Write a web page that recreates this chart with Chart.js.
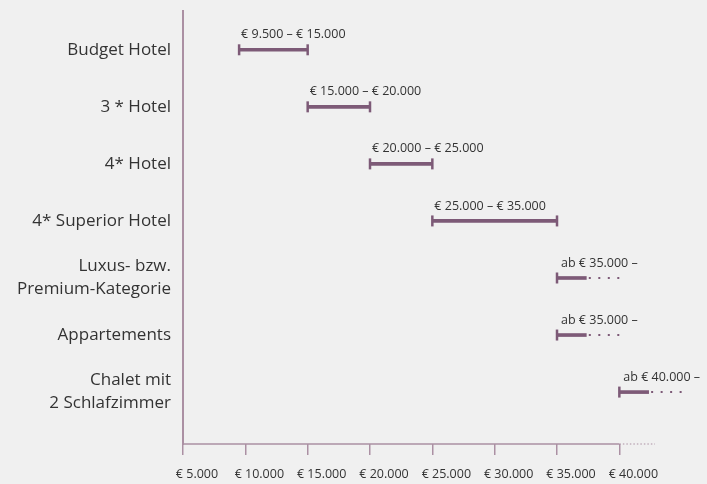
<!DOCTYPE html>
<html>
<head>
<meta charset="utf-8">
<script src="https://cdn.jsdelivr.net/npm/chart.js@4/dist/chart.umd.min.js"></script>
<style>
  html, body { margin: 0; padding: 0; background: #f0f0f0; }
</style>
</head>
<body>
<canvas id="myChart" width="707" height="484"></canvas>
<script>
// categories (top to bottom) and price ranges in EUR; null = open-ended ("ab ...")
var categories = [
  'Budget Hotel',
  '3 * Hotel',
  '4* Hotel',
  '4* Superior Hotel',
  ['Luxus- bzw.', 'Premium-Kategorie'],
  'Appartements',
  ['Chalet mit', '2 Schlafzimmer']
];
var priceFrom = [9500, 15000, 20000, 25000, 35000, 35000, 40000];
var priceTo = [15000, 20000, 25000, 35000, null, null, null];
var tickValues = [5000, 10000, 15000, 20000, 25000, 30000, 35000, 40000];

var mauve = '#7d5a77';
var axisColor = '#ab90a3';
var textColor = '#333333';
var fontFamily = '"Open Sans", sans-serif';

// how an open range is drawn: short solid part, then dots
var openSolid = 2350;
var openDotted = 5050;

function euro(v) {
  return '€ ' + String(v).replace(/\B(?=(\d{3})+(?!\d))/g, '.');
}

function rangeText(i) {
  if (priceTo[i] == null) return 'ab ' + euro(priceFrom[i]) + ' –';
  return euro(priceFrom[i]) + ' – ' + euro(priceTo[i]);
}

var barData = categories.map(function (c, i) {
  var end = priceTo[i] == null ? priceFrom[i] + openSolid : priceTo[i];
  return { x: [priceFrom[i], end], y: i };
});

var capData = [];
categories.forEach(function (c, i) {
  capData.push({ x: priceFrom[i], y: i });
  if (priceTo[i] != null) capData.push({ x: priceTo[i], y: i });
});

var dotSets = [];
categories.forEach(function (c, i) {
  if (priceTo[i] != null) return;
  dotSets.push({
    type: 'line',
    data: [{ x: priceFrom[i] + openSolid + 200, y: i }, { x: priceFrom[i] + openDotted, y: i }],
    borderColor: mauve,
    borderWidth: 2,
    borderDash: [2, 7.5],
    pointRadius: 0,
    clip: false
  });
});

var rangeLabels = {
  id: 'rangeLabels',
  afterDatasetsDraw: function (chart) {
    var ctx = chart.ctx;
    var meta = chart.getDatasetMeta(0);
    ctx.save();
    ctx.font = '12.5px ' + fontFamily;
    ctx.fillStyle = textColor;
    ctx.textBaseline = 'middle';
    meta.data.forEach(function (bar, i) {
      var left = Math.min(bar.x, bar.base);
      ctx.fillText(rangeText(i), left + (priceTo[i] == null ? 4 : 2), bar.y - 15);
    });
    ctx.restore();
  }
};

// x axis line: solid up to the last tick, dotted afterwards
var axisLine = {
  id: 'axisLine',
  beforeDatasetsDraw: function (chart) {
    var ctx = chart.ctx;
    var xs = chart.scales.x;
    var y = chart.chartArea.bottom;
    var last = xs.getPixelForValue(tickValues[tickValues.length - 1]);
    ctx.save();
    ctx.strokeStyle = axisColor;
    ctx.lineWidth = 1.5;
    ctx.beginPath();
    ctx.moveTo(xs.left, y);
    ctx.lineTo(last, y);
    ctx.stroke();
    ctx.setLineDash([1.5, 2]);
    ctx.lineWidth = 1;
    ctx.beginPath();
    ctx.moveTo(last, y);
    ctx.lineTo(xs.right, y);
    ctx.stroke();
    ctx.restore();
  }
};

var ctx = document.getElementById('myChart').getContext('2d');

var myChart = new Chart(ctx, {
  data: {
    datasets: [{
      type: 'bar',
      indexAxis: 'y',
      data: barData,
      backgroundColor: mauve,
      barThickness: 3,
      clip: false
    }, {
      type: 'scatter',
      data: capData,
      pointStyle: 'line',
      rotation: 90,
      radius: 5.5,
      borderWidth: 2.5,
      borderColor: mauve,
      backgroundColor: mauve,
      clip: false
    }].concat(dotSets)
  },
  options: {
    responsive: false,
    devicePixelRatio: 1,
    animation: false,
    layout: { padding: { top: 11, right: 52, left: 0, bottom: 0 } },
    plugins: { legend: { display: false }, tooltip: { enabled: false } },
    scales: {
      x: {
        type: 'linear',
        min: 5000,
        max: 42860,
        offset: false,
        afterBuildTicks: function (scale) {
          scale.ticks = tickValues.map(function (v) { return { value: v }; });
        },
        afterFit: function (scale) {
          scale.height = 40;
          scale.paddingLeft = 0;
          scale.paddingRight = 0;
        },
        border: { display: false },
        grid: {
          drawOnChartArea: false,
          drawTicks: true,
          tickLength: 11,
          color: axisColor,
          lineWidth: 1.5
        },
        ticks: {
          callback: function (v) { return euro(v); },
          color: textColor,
          font: { family: fontFamily, size: 12.5 },
          padding: 11.5,
          labelOffset: 14,
          maxRotation: 0,
          autoSkip: false
        }
      },
      y: {
        type: 'linear',
        reverse: true,
        offset: false,
        min: -0.68,
        max: 6.91,
        afterBuildTicks: function (scale) {
          scale.ticks = categories.map(function (c, i) { return { value: i }; });
        },
        afterFit: function (scale) {
          scale.width = 183;
          scale.paddingTop = 0;
          scale.paddingBottom = 0;
        },
        border: { display: true, color: axisColor, width: 2 },
        grid: { display: false, drawTicks: false, offset: false },
        ticks: {
          callback: function (v, i) { return categories[i]; },
          color: textColor,
          font: { family: fontFamily, size: 17, lineHeight: 1.35 },
          padding: 12,
          autoSkip: false
        }
      }
    }
  },
  plugins: [axisLine, rangeLabels]
});
</script>
</body>
</html>
